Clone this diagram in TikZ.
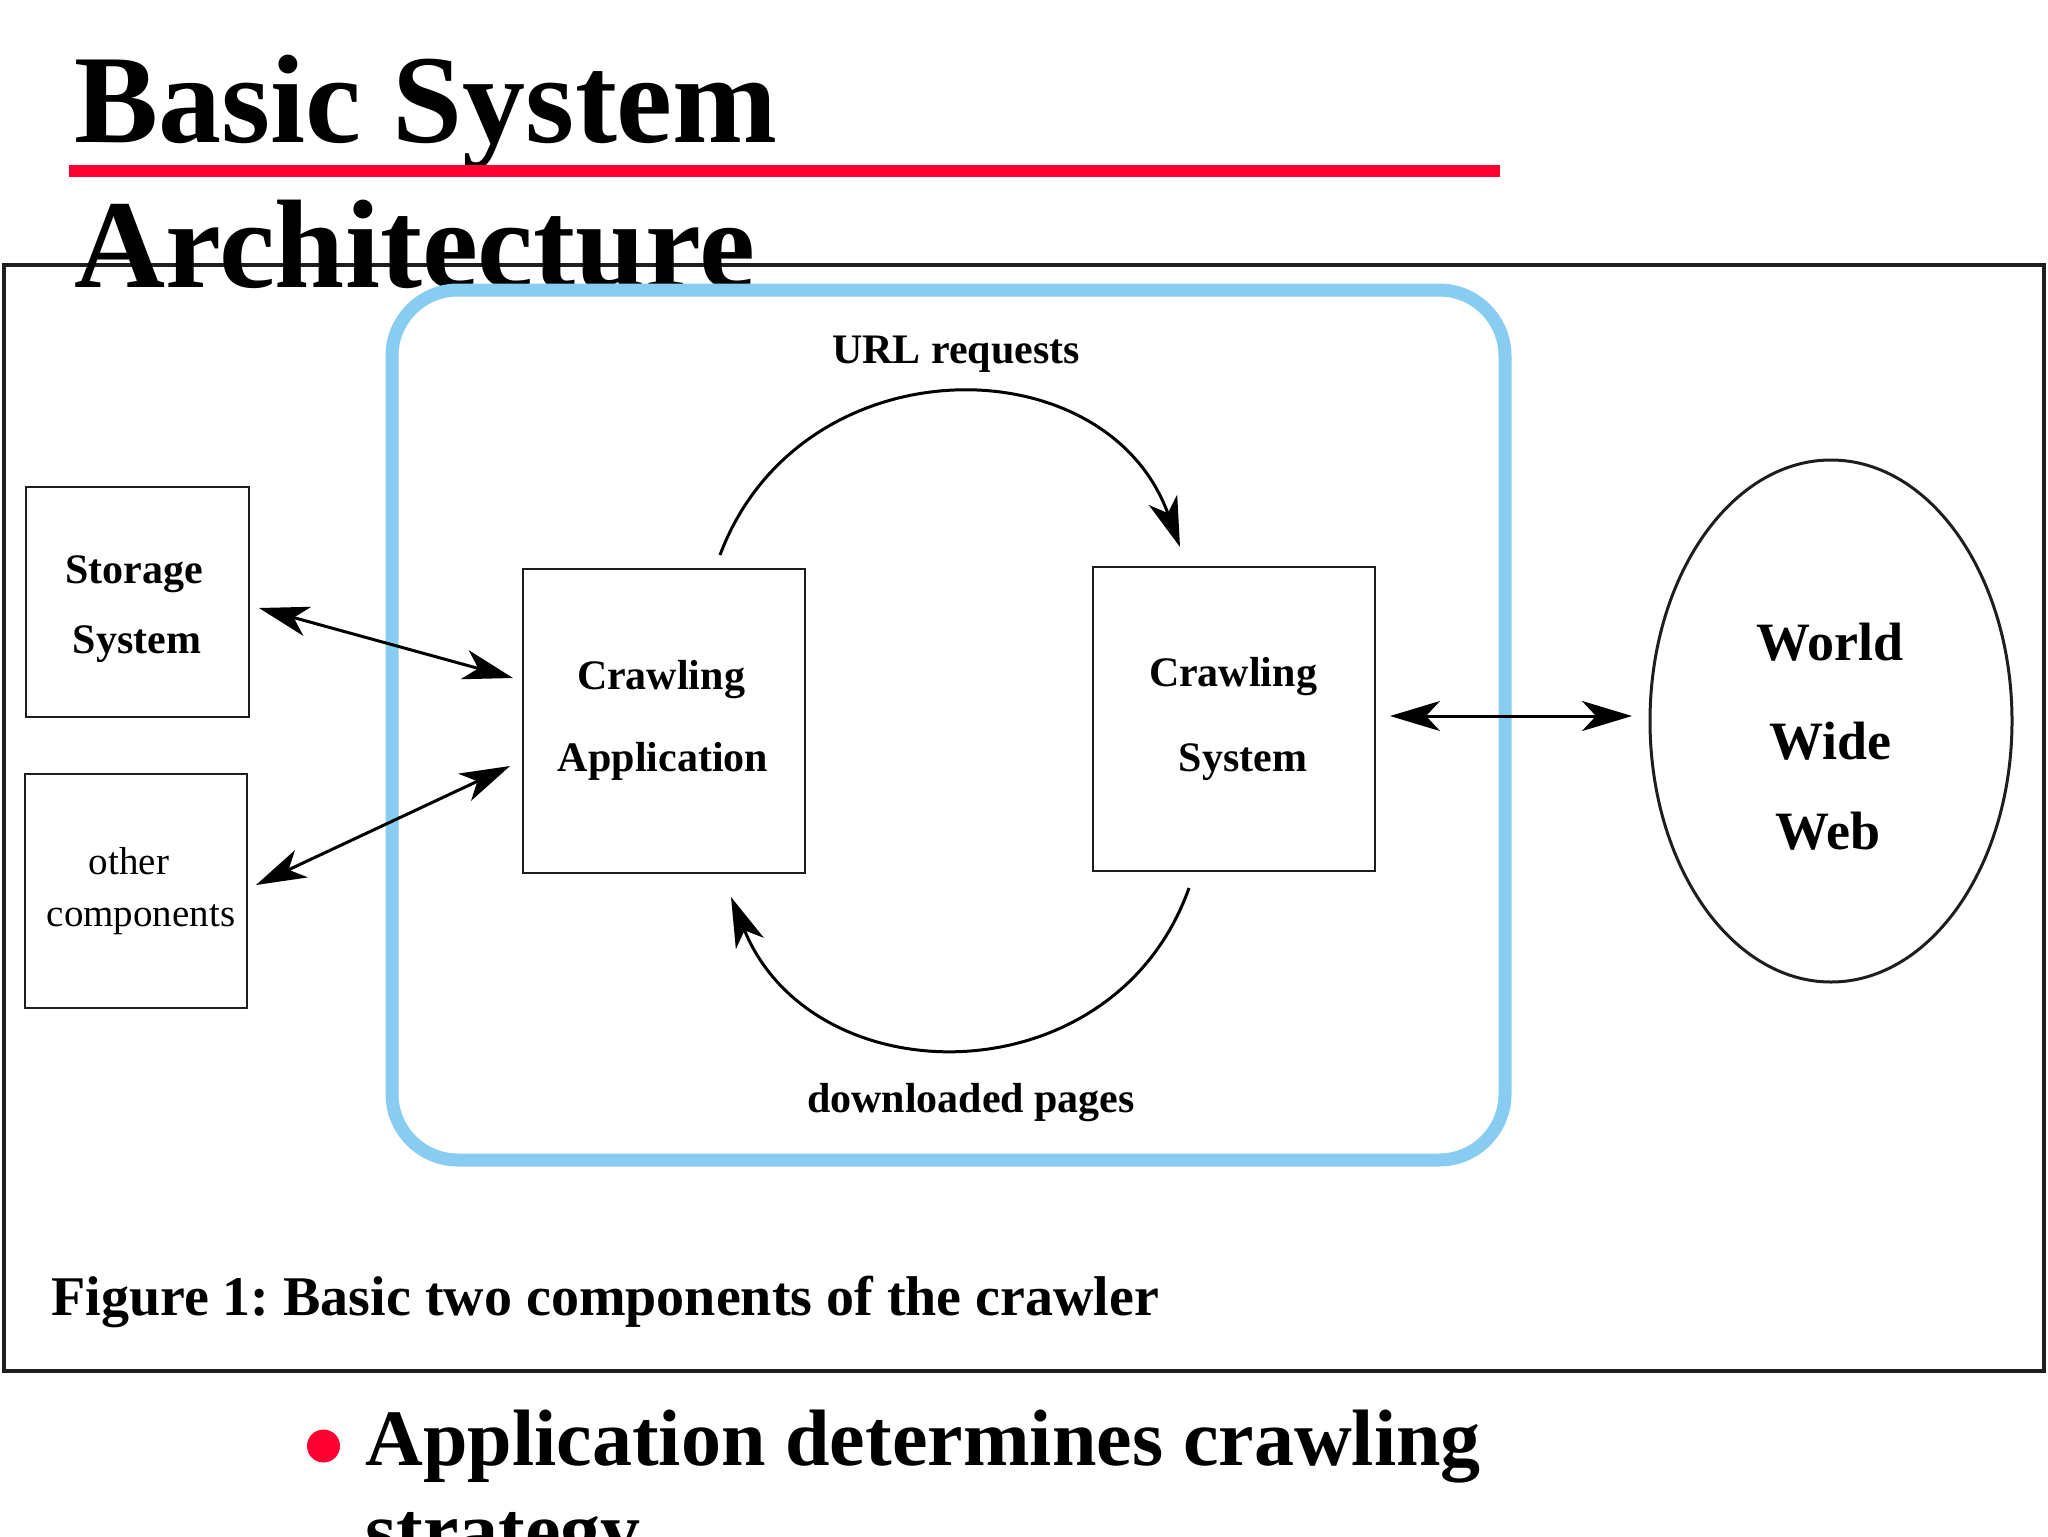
\documentclass[tikz,border=0pt]{standalone}
\usepackage{fontspec}
\setmainfont{Liberation Serif}
\usetikzlibrary{arrows.meta,shapes.geometric}
\definecolor{ttlred}{RGB}{255,0,51}
\definecolor{coreblue}{RGB}{137,204,242}
\definecolor{ink}{RGB}{30,30,30}
\frenchspacing
\begin{document}
\begin{tikzpicture}[x=0.5pt,y=-0.5pt,
  box/.style={draw=ink, line width=1.3pt, rectangle, inner sep=0pt, outer sep=0pt},
  lbl/.style={anchor=base, inner sep=0pt, font=\fontsize{21}{21}\selectfont\bfseries},
  small/.style={anchor=base, inner sep=0pt, font=\fontsize{19.5}{19.5}\selectfont},
  www/.style={anchor=base, inner sep=0pt, font=\fontsize{27}{27}\selectfont\bfseries},
  ttl/.style={anchor=base west, inner sep=0pt, font=\fontsize{63}{63}\selectfont\bfseries},
  >={Stealth[length=25pt,width=15pt,inset=7pt]},
  conn/.style={draw=black, line width=1.5pt},
  ]
\useasboundingbox (0,0) rectangle (2048,1536);
\clip (0,0) rectangle (2048,1536);
\fill[white] (0,0) rectangle (2048,1536);

% outer figure frame
\draw[ink, line width=2.2pt] (4,265) rectangle (2044,1371);

% title
\node[ttl] (t1) at (74,142) {Basic System};
\draw[ttlred, line width=6pt] (69,171) -- (1500,171);
\node[ttl] (t2) at (74,287) {Architecture};

% blue core frame
\node[draw=coreblue, line width=6.5pt, rounded corners=33pt, minimum width=556.5pt, minimum height=435pt, inner sep=0pt] (core) at (948.5,725) {};

% boxes
\node[box, minimum width=111.5pt, minimum height=115pt] (ss) at (137.5,602) {};
\node[box, minimum width=111pt, minimum height=117pt] (oc) at (136,891) {};
\node[box, minimum width=141pt, minimum height=152pt] (ca) at (664,721) {};
\node[box, minimum width=141pt, minimum height=152pt] (cs) at (1234,719) {};
\node[draw=ink, line width=1.5pt, ellipse, minimum width=181pt, minimum height=261pt, inner sep=0pt] (web) at (1831,721) {};

% box texts
\node[lbl] (ss1) at (134,583) {Storage};
\node[lbl] (ss2) at (137,653) {System};
\node[small] (oc1) at (129,874) {other};
\node[small] (oc2) at (141,926) {components};
\node[lbl] (ca1) at (661,689) {Crawling};
\node[lbl] (ca2) at (663,771) {Application};
\node[lbl] (cs1) at (1233,686) {Crawling};
\node[lbl] (cs2) at (1243,771) {System};
\node[www] (w1) at (1830,660) {World};
\node[www] (w2) at (1830,759) {Wide};
\node[www] (w3) at (1828,849) {Web};

% arc labels
\node[lbl] (url) at (956,363) {URL requests};
\node[lbl] (dl) at (971,1112) {downloaded pages};

% connector end points
\coordinate (s1) at (259,608);
\coordinate (s2) at (513,678);
\coordinate (o1) at (256,885);
\coordinate (o2) at (510,766);
\coordinate (e1) at (1390,716);
\coordinate (e2) at (1632,716);
\coordinate (u1) at (720,555);
\coordinate (u2) at (1180,547);
\coordinate (d1) at (1189,888);
\coordinate (d2) at (731,897);

% connectors
\draw[conn, <->] (s1) -- (s2);
\draw[conn, <->] (o1) -- (o2);
\draw[conn, <->] (e1) -- (e2);
\draw[conn, ->] (u1) .. controls (800,342) and (1106,342) .. (u2);
\draw[conn, ->] (d1) .. controls (1114,1099) and (813,1099) .. (d2);

% caption
\node[anchor=base west, inner sep=0pt, font=\fontsize{28}{28}\selectfont\bfseries] (cap) at (51,1315) {Figure 1: Basic two components of the crawler};

% bullet
\fill[ttlred] (323.5,1446) circle[radius=8.25pt];
\node[anchor=base west, inner sep=0pt, font=\fontsize{40}{40}\selectfont\bfseries] (b1) at (365,1465) {Application determines crawling};
\node[anchor=base west, inner sep=0pt, font=\fontsize{40}{40}\selectfont\bfseries] (b2) at (365,1557) {strategy};
\end{tikzpicture}
\end{document}
